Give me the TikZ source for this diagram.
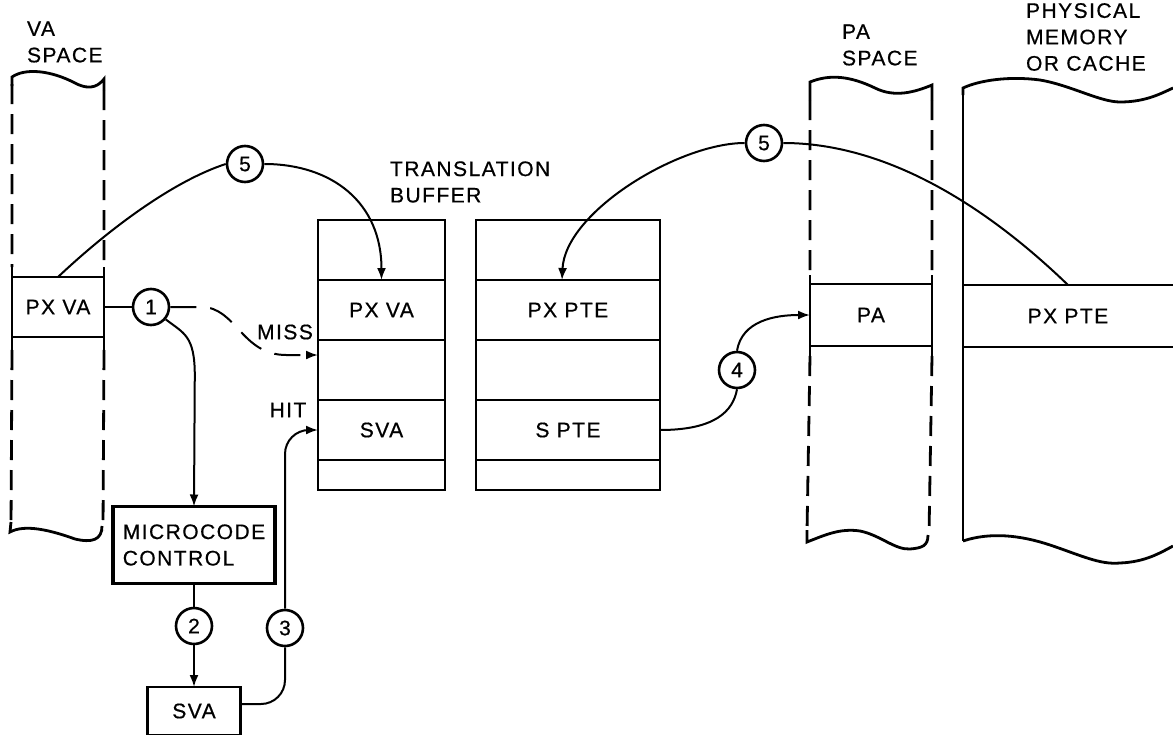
\documentclass[tikz,border=0pt]{standalone}
\usepackage{fontspec}
\setmainfont{Liberation Sans}[LetterSpace=7, FakeBold=0.6]
\usetikzlibrary{arrows.meta, positioning}
\tikzset{every node/.append style={align=center, font=\fontsize{10.5}{13.2}\selectfont}}
\tikzset{
  cell/.style={draw, line width=1.3pt, inner sep=0pt, outer sep=0pt},
  tbrow/.style={cell, minimum height=30pt},
  tbl/.style={tbrow, minimum width=63.5pt},
  tbr/.style={tbrow, minimum width=92pt},
  num/.style={circle, draw, line width=1.3pt, minimum size=18pt, inner sep=0pt},
  conn/.style={line width=1pt},
  arrow/.style={conn, -{Latex[length=6pt,width=4.5pt]}},
  miss/.style={arrow, dash pattern=on 13pt off 7pt},
  vdash/.style={line width=1.4pt, dash pattern=on 10pt off 5pt},
  rim/.style={line width=1.4pt},
  lbl/.style={anchor=west, align=left}
}
\begin{document}
\begin{tikzpicture}[x=0.5pt, y=-0.5pt]
  \clip (0,0) rectangle (1173,734);
  % VA space
  \node[lbl] (valbl) at (20,42) {VA\\SPACE};
  \node[cell, minimum width=46pt, minimum height=30pt] (vapx) at (58,307) {PX VA};
  \draw[vdash] (12,84) -- (12,267) (12,350) -- (11,528);
  \draw[vdash] (104,90) -- (104,267) (104,350) -- (103,530);
  \draw[rim] (vapx.north west) -- ++(0,-10) (vapx.south west) -- ++(0,13);
  \draw[rim] (vapx.north east) -- ++(0,-10) (vapx.south east) -- ++(0,13);
  \draw[rim] (12,86) -- (12,77) .. controls (25,68) and (50,70) .. (75,83)
    .. controls (92,92) and (100,84) .. (104,79) -- (104,90);
  \draw[rim] (11,522) -- (10,532) .. controls (25,524) and (50,530) .. (75,539)
    .. controls (92,543) and (102,540) .. (102,526);
  % microcode path
  \node[cell, line width=1.7pt, minimum width=81pt, minimum height=38.5pt, align=left] (mc) at (194,545) {MICROCODE\\CONTROL};
  \node[num] (c1) at (151,307) {1};
  \node[num] (c2) at (194,626) {2};
  \node[num] (c3) at (285,628) {3};
  \node[cell, minimum width=46.5pt, minimum height=24pt] (sva) at (194,711) {SVA};
  % translation buffer
  \node[lbl] (tblbl) at (383,182) {TRANSLATION\\BUFFER};
  \node[tbl] (tb1a) at (381.5,250) {};
  \node[tbl, below=0pt of tb1a] (tb1b) {PX VA};
  \node[tbl, below=0pt of tb1b] (tb1c) {};
  \node[tbl, below=0pt of tb1c] (tb1d) {SVA};
  \node[tbl, below=0pt of tb1d, minimum height=15pt] (tb1e) {};
  \node[tbr] (tb2a) at (568,250) {};
  \node[tbr, below=0pt of tb2a] (tb2b) {PX PTE};
  \node[tbr, below=0pt of tb2b] (tb2c) {};
  \node[tbr, below=0pt of tb2c] (tb2d) {S PTE};
  \node[tbr, below=0pt of tb2d, minimum height=15pt] (tb2e) {};
  \node[num] (c5a) at (245,164) {5};
  \node[num] (c5b) at (764,143) {5};
  \node[num] (c4) at (737,370) {4};
  % PA space
  \node[lbl] (palbl) at (835,45) {PA\\SPACE};
  \node[cell, minimum width=61pt, minimum height=31pt] (pa) at (871,315) {PA};
  \draw[vdash] (810,100) -- (810,275) (810,356) -- (807,532);
  \draw[vdash] (932,100) -- (932,275) (932,356) -- (929,535);
  \draw[rim] (pa.north west) -- ++(0,-9) (pa.south west) -- ++(0,10);
  \draw[rim] (pa.north east) -- ++(0,-9) (pa.south east) -- ++(0,10);
  \draw[rim] (810,100) -- (810,82) .. controls (830,74) and (850,76) .. (875,88)
    .. controls (895,98) and (915,92) .. (932,85) -- (932,100);
  \draw[rim] (807,530) -- (807,542) .. controls (825,535) and (840,528) .. (860,531)
    .. controls (880,535) and (895,550) .. (910,549) .. controls (922,548) and (928,546) .. (928,535);
  % physical memory
  \node[lbl] (memlbl) at (1019,37) {PHYSICAL\\MEMORY\\OR CACHE};
  \node[minimum width=105pt, minimum height=31pt, inner sep=0pt, outer sep=0pt] (mem) at (1068,316) {PX PTE};
  \draw[rim] (mem.north west) -- (mem.north east) (mem.south west) -- (mem.south east);
  \draw[rim] (963,88) -- (963,541);
  \draw[rim] (963,95) -- (963,88) .. controls (980,80) and (1010,76) .. (1040,80)
    .. controls (1070,85) and (1100,102) .. (1120,102) .. controls (1145,102) and (1160,94) .. (1173,88);
  \draw[rim] (963,541) .. controls (990,532) and (1020,535) .. (1050,545)
    .. controls (1080,555) and (1100,565) .. (1120,563) .. controls (1145,562) and (1160,553) .. (1173,546);
  % connectors
  \node (misslbl) at (285,332) {MISS};
  \node (hitlbl) at (288,410) {HIT};
  \draw[conn] (vapx) -- (c1);
  \draw[miss] (c1.east) -- ++(31,0) .. controls +(35,0) and +(-45,0) .. ++(85,48) -- ([yshift=7.5pt]tb1c.west);
  \draw[arrow] (c1.-40) .. controls +(18,14) and +(0,-40) .. ++(29,56) -- (mc.north);
  \draw[conn] (mc) -- (c2);
  \draw[arrow] (c2) -- (sva);
  \draw[conn, rounded corners=12pt] ([yshift=3.5pt]sva.east) -| (c3.south);
  \draw[arrow, rounded corners=12pt] (c3.north) |- (tb1d.west);
  \draw[conn] (vapx.north) .. controls +(52,-49) and +(-52,17) .. (c5a.west);
  \draw[arrow] (c5a.east) .. controls +(67,0) and +(0,-78) .. (tb1b.north);
  \draw[conn] (mem.north) .. controls +(-88,-85) and +(98,0) .. (c5b.east);
  \draw[arrow] (c5b.west) .. controls +(-66,0) and +(3,-68) .. ([xshift=-3pt]tb2b.north);
  \draw[conn] (tb2d.east) .. controls +(55,0) and +(-4,22) .. (c4.south);
  \draw[arrow] (c4.north) .. controls +(5,-30) and +(-35,0) .. (pa.west);
\end{tikzpicture}
\end{document}
